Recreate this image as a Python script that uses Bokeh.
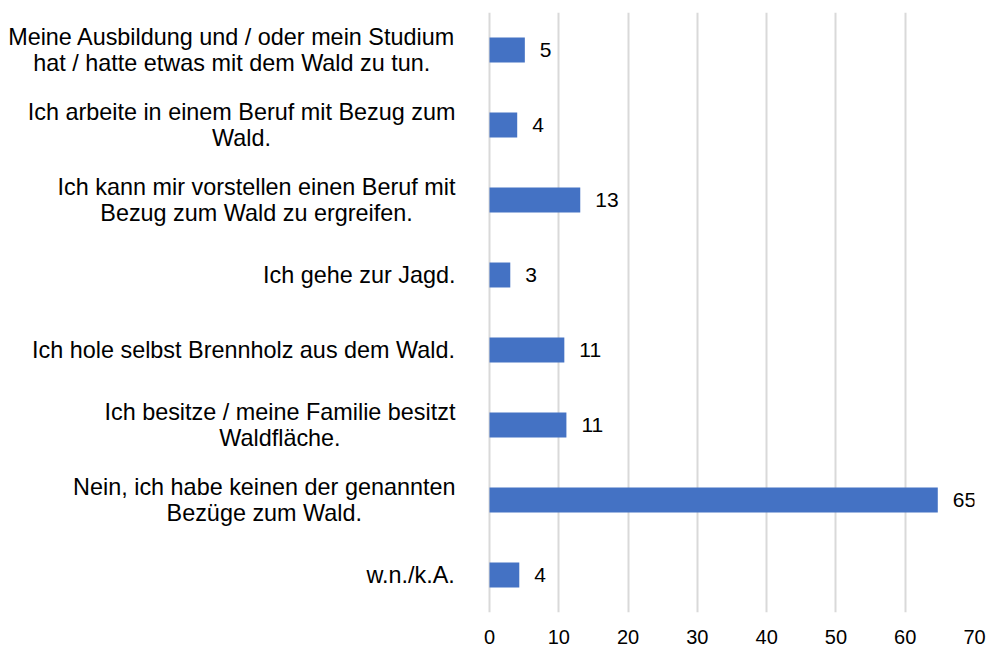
from bokeh.plotting import figure
from bokeh.models import ColumnDataSource, Range1d, LabelSet, FixedTicker
from bokeh.core.properties import value
from bokeh.embed import file_html
from bokeh.resources import INLINE

categories = [
    "Meine Ausbildung und / oder mein Studium\nhat / hatte etwas mit dem Wald zu tun.",
    "Ich arbeite in einem Beruf mit Bezug zum\nWald.",
    "Ich kann mir vorstellen einen Beruf mit\nBezug zum Wald zu ergreifen.",
    "Ich gehe zur Jagd.",
    "Ich hole selbst Brennholz aus dem Wald.",
    "Ich besitze / meine Familie besitzt\nWaldfläche.",
    "Nein, ich habe keinen der genannten\nBezüge zum Wald.",
    "w.n./k.A.",
]
values = [5.1, 4.0, 13.1, 3.0, 10.8, 11.1, 64.7, 4.3]
value_labels = ["5", "4", "13", "3", "11", "11", "65", "4"]
x_ticks = [0, 10, 20, 30, 40, 50, 60, 70]
x_max = 70

FONT = "Liberation Sans"
BAR_COLOR = "#4472C4"
CAT_SIZE = 23.4      # px
CAT_LINE = 26        # px between lines
CAT_GAP = 34         # px between label block and value axis origin

WIDTH, HEIGHT = 991, 648
LABEL_AREA = 489     # px left of the value origin, reserved for category labels
RIGHT_BORDER = 17
PLOT_PX = WIDTH - RIGHT_BORDER - LABEL_AREA
x_start = -x_max * LABEL_AREA / PLOT_PX   # extend range so labels sit inside the frame

# Arial / Liberation Sans advance widths (1/1000 em) for centring wrapped lines
_W = dict(zip("abcdefghijklmnopqrstuvwxyz",
              [556, 556, 500, 556, 556, 278, 556, 556, 222, 222, 500, 222, 833,
               556, 556, 556, 556, 333, 500, 278, 556, 500, 722, 500, 500, 500]))
_W.update(zip("ABCDEFGHIJKLMNOPQRSTUVWXYZ",
              [667, 667, 722, 722, 667, 611, 778, 722, 278, 500, 667, 556, 833,
               722, 778, 667, 778, 722, 667, 611, 722, 667, 944, 667, 667, 611]))
_W.update({" ": 278, "/": 278, ".": 278, ",": 278, "ä": 556, "ü": 556, "ö": 556})


def text_width(s, size):
    return sum(_W.get(ch, 556) for ch in s) * size / 1000.0


n = len(categories)
ypos = [n - 0.5 - i for i in range(n)]  # first category at top

source = ColumnDataSource(dict(y=ypos, val=values, lab=value_labels))

# one entry per text line of the category labels
lx, ly, lxo, lyo, lt = [], [], [], [], []
for yy, c in zip(ypos, categories):
    lines = c.split("\n")
    block_w = max(text_width(s, CAT_SIZE) for s in lines)
    k = len(lines)
    for j, s in enumerate(lines):
        lx.append(0)
        ly.append(yy)
        lxo.append(-(CAT_GAP + block_w / 2.0))
        lyo.append(((k - 1) / 2.0 - j) * CAT_LINE)
        lt.append(s)
cat_source = ColumnDataSource(dict(x=lx, y=ly, xo=lxo, yo=lyo, t=lt))

p = figure(
    width=WIDTH, height=HEIGHT,
    y_range=Range1d(0, n),
    x_range=Range1d(x_start, x_max),
    output_backend="svg", toolbar_location=None,
    min_border_left=0, min_border_right=RIGHT_BORDER,
    min_border_top=12, min_border_bottom=36,
)
p.outline_line_color = None
p.background_fill_color = "white"

p.hbar(y="y", right="val", left=0, height=0.333, source=source,
       fill_color=BAR_COLOR, line_color=None)

p.add_layout(LabelSet(x="val", y="y", text="lab", source=source,
                      x_offset=15, text_align="left", text_baseline="middle",
                      text_font=value(FONT), text_font_size="21px",
                      text_color="#000000"))

p.add_layout(LabelSet(x="x", y="y", text="t", source=cat_source,
                      x_offset="xo", y_offset="yo",
                      text_align="center", text_baseline="middle",
                      text_font=value(FONT), text_font_size=f"{CAT_SIZE}px",
                      text_color="#000000"))

p.yaxis.visible = False
p.ygrid.grid_line_color = None

p.xaxis.ticker = FixedTicker(ticks=x_ticks)
p.xaxis.axis_line_color = None
p.xaxis.major_tick_line_color = None
p.xaxis.minor_tick_line_color = None
p.xaxis.major_tick_out = 0
p.xaxis.major_tick_in = 0
p.xaxis.major_label_standoff = 17
p.xaxis.major_label_text_font = FONT
p.xaxis.major_label_text_font_size = "20px"
p.xaxis.major_label_text_color = "#000000"

p.xgrid.ticker = FixedTicker(ticks=x_ticks)
p.xgrid.grid_line_color = "#D9D9D9"
p.xgrid.grid_line_width = 2

open("out.html", "w").write(file_html(p, INLINE))
